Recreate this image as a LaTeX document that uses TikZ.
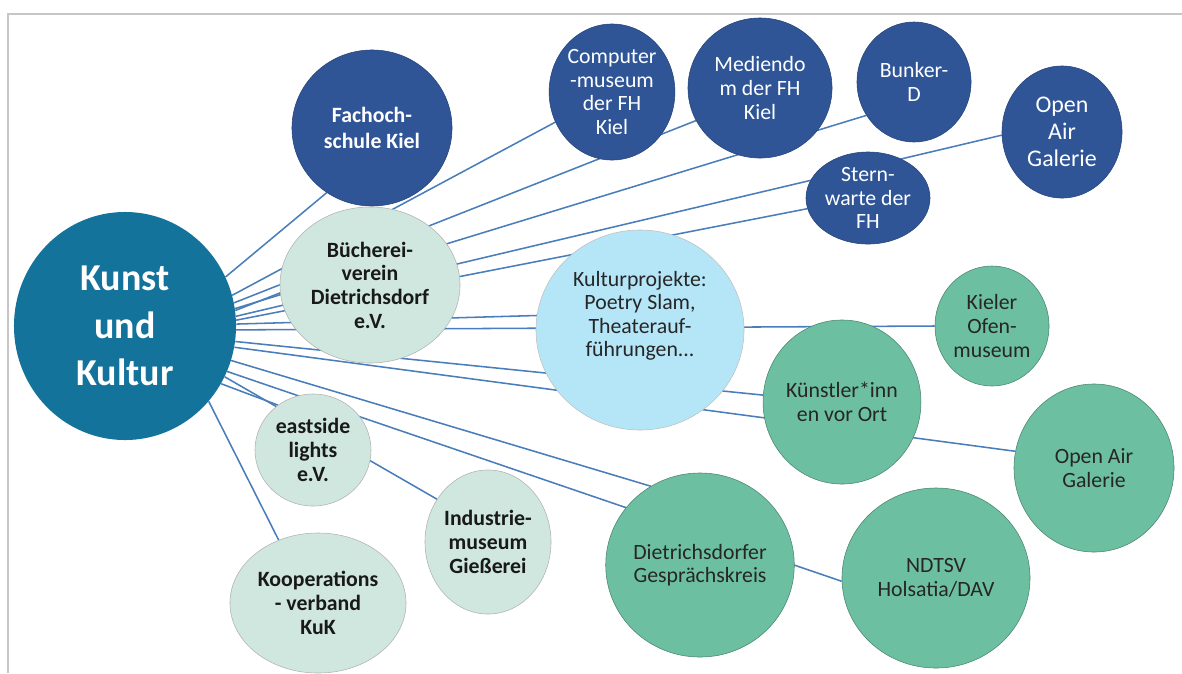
\documentclass[tikz,border=0pt]{standalone}
\usepackage{fontspec}
\setmainfont{Carlito}
\usetikzlibrary{shapes.geometric,backgrounds}
\definecolor{kukblau}{HTML}{13739B}
\definecolor{fhblau}{HTML}{2F5597}
\definecolor{mintgruen}{HTML}{CFE7DE}
\definecolor{hellblau}{HTML}{B5E6F7}
\definecolor{ortgruen}{HTML}{6DBFA2}
\definecolor{linienblau}{HTML}{4A7EBB}

\begin{document}
\begin{tikzpicture}[x=0.025cm,y=-0.025cm,
    kreis/.style={ellipse,inner sep=0pt,align=center,font=\fontsize{15.5}{16.8}\selectfont},
    zentrum/.style={kreis,fill=kukblau,text=white,font=\bfseries\fontsize{27}{34}\selectfont},
    hochschule/.style={kreis,fill=fhblau,draw=fhblau!80!black,text=white},
    verein/.style={kreis,fill=mintgruen,draw=gray!60,text=black!90,font=\bfseries\fontsize{15.5}{16.8}\selectfont},
    projekt/.style={kreis,fill=hellblau,draw=gray!50,text=black!85},
    vorort/.style={kreis,fill=ortgruen,draw=ortgruen!70!black,text=black!85},
    verbindung/.style={draw=linienblau,line width=1.1pt}]
\useasboundingbox (0,0) rectangle (1182,673);
\draw[gray!45,line width=1pt] (8,673) -- (8,14) -- (1182,14);

\node[zentrum,minimum width=5.55cm,minimum height=5.7cm] (kuk) at (125,326) {Kunst\\und\\Kultur};

\node[hochschule,minimum width=4cm,minimum height=3.9cm,font=\bfseries\fontsize{15.5}{18.5}\selectfont] (fh) at (372,128) {Fachoch-\\schule Kiel};
\node[hochschule,minimum width=3.1cm,minimum height=3.4cm] (comp) at (612,92) {Computer\\-museum\\der FH\\Kiel};
\node[hochschule,minimum width=3.6cm,minimum height=3.5cm] (dom) at (760,88) {Mediendo\\m der FH\\Kiel};
\node[hochschule,minimum width=2.85cm,minimum height=3cm] (bunker) at (914,82) {Bunker-\\D};
\node[hochschule,minimum width=3cm,minimum height=3.3cm,font=\fontsize{17}{19}\selectfont] (galb) at (1062,132) {Open\\Air\\Galerie};
\node[hochschule,minimum width=3.1cm,minimum height=2.3cm] (stern) at (868,198) {Stern-\\warte der\\FH};

\node[verein,minimum width=4.5cm,minimum height=3.9cm] (buch) at (370,285) {Bücherei-\\verein\\Dietrichsdorf\\e.V.};
\node[verein,minimum width=2.9cm,minimum height=2.8cm] (east) at (313,450) {eastside\\lights\\e.V.};
\node[verein,minimum width=3.15cm,minimum height=3.6cm] (industrie) at (488,542) {Industrie-\\museum\\Gießerei};
\node[verein,minimum width=4.4cm,minimum height=3.5cm] (koop) at (318,603) {Kooperations\\- verband\\KuK};

\node[projekt,minimum width=5.2cm,minimum height=5cm] (projekte) at (640,330) {Kulturprojekte:\\Poetry Slam,\\Theaterauf-\\führungen...\\[6pt]};

\node[vorort,minimum width=2.85cm,minimum height=3cm] (ofen) at (992,326) {Kieler\\Ofen-\\museum};
\node[vorort,minimum width=3.75cm,minimum height=4.1cm] (kuenstler) at (842,402) {Künstler*inn\\en vor Ort};
\node[vorort,minimum width=4cm,minimum height=4.2cm] (galg) at (1094,468) {Open Air\\Galerie};
\node[vorort,minimum width=4.5cm,minimum height=4.6cm] (kreis) at (700,565) {Dietrichsdorfer\\Gesprächskreis};
\node[vorort,minimum width=4.7cm,minimum height=4.5cm] (ndtsv) at (936,578) {NDTSV\\Holsatia/DAV};

\begin{scope}[on background layer]
    \draw[verbindung] (kuk.26) -- (fh.235);
    \draw[verbindung] (kuk.16) -- (comp.208);
    \draw[verbindung] (kuk.12) -- (dom.207);
    \draw[verbindung] (kuk.9) -- (bunker.215);
    \draw[verbindung] (kuk.5) -- (galb.183);
    \draw[verbindung] (kuk.3) -- (stern.190);
    \draw[verbindung] (kuk.8) -- (buch.185);
    \draw[verbindung] (kuk.1) -- (projekte.172);
    \draw[verbindung] (kuk.-2) -- (ofen.180);
    \draw[verbindung] (kuk.-8) -- (kuenstler.175);
    \draw[verbindung] (kuk.-11) -- (galg.168);
    \draw[verbindung] (kuk.-18) -- (kreis.122);
    \draw[verbindung] (kuk.-24) -- (ndtsv.182);
    \draw[verbindung] (kuk.-27) -- (industrie.140);
    \draw[verbindung] (kuk.-31) -- (east.128);
    \draw[verbindung] (kuk.-42) -- (koop.122);
\end{scope}
\end{tikzpicture}
\end{document}
